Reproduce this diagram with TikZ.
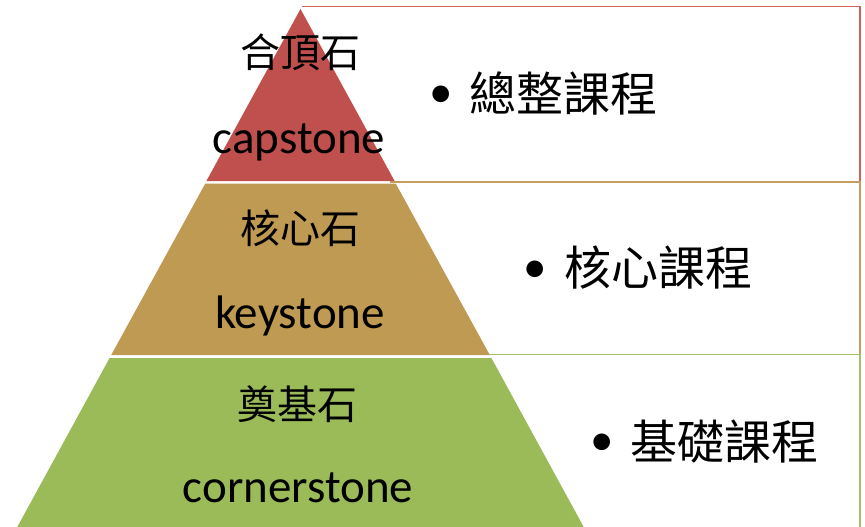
\documentclass[tikz,border=0pt]{standalone}
\usepackage{fontspec}
\setmainfont{Carlito}
\newfontfamily\cjk{Noto Sans CJK TC}
\definecolor{capred}{HTML}{C0504D}
\definecolor{keytan}{HTML}{BE9A53}
\definecolor{corngreen}{HTML}{9BBB59}
\definecolor{capline}{HTML}{D2605C}
\definecolor{keyline}{HTML}{C49E5E}
\definecolor{cornline}{HTML}{A3C266}
\tikzset{
  boxline/.style={line width=1.5pt},
  latin/.style={inner sep=0pt, anchor=base, font=\fontsize{47}{52}\selectfont},
  cjkleft/.style={inner sep=0pt, anchor=center, font=\cjk\fontsize{40}{46}\selectfont},
  cjkright/.style={inner sep=0pt, anchor=west, font=\cjk\fontsize{47}{52}\selectfont},
  bulletmark/.style={inner sep=0pt, anchor=center, font=\fontsize{47}{52}\selectfont},
}
\begin{document}
\begin{tikzpicture}[x=1pt,y=-1pt]
\useasboundingbox (0,0) rectangle (865,527);
\clip (0,0) rectangle (865,527);
% boxes behind the pyramid (open on the pyramid side)
\draw[boxline, draw=capline] (302,6.5) -- (860,6.5) -- (860,182) -- (390,182);
\draw[boxline, draw=keyline] (390,182) -- (860,182) -- (860,354.5) -- (485,354.5);
\draw[boxline, draw=cornline] (485,354.5) -- (860,354.5) -- (860,540);
% pyramid layers
\fill[capred] (300.5,9) -- (394.6,181) -- (206.4,181) -- cycle;
\fill[keytan] (205.3,183.5) -- (395.7,183.5) -- (489.8,355) -- (111.2,355) -- cycle;
\fill[corngreen] (109.6,358) -- (491.4,358) -- (587,533) -- (14,533) -- cycle;
% left labels
\node[cjkleft] (capzh) at (300,52) {合頂石};
\node[latin] (capen) at (299,153) {capstone};
\node[cjkleft] (keyzh) at (300,228) {核心石};
\node[latin] (keyen) at (300,328) {keystone};
\node[cjkleft] (cornzh) at (297,404) {奠基石};
\node[latin] (cornen) at (298,502) {cornerstone};
% right labels
\node[bulletmark] (b1) at (441,97) {•};
\node[cjkright] (r1) at (469,93) {總整課程};
\node[bulletmark] (b2) at (535,272) {•};
\node[cjkright] (r2) at (564,268) {核心課程};
\node[bulletmark] (b3) at (602,445) {•};
\node[cjkright] (r3) at (630,442) {基礎課程};
\end{tikzpicture}
\end{document}
